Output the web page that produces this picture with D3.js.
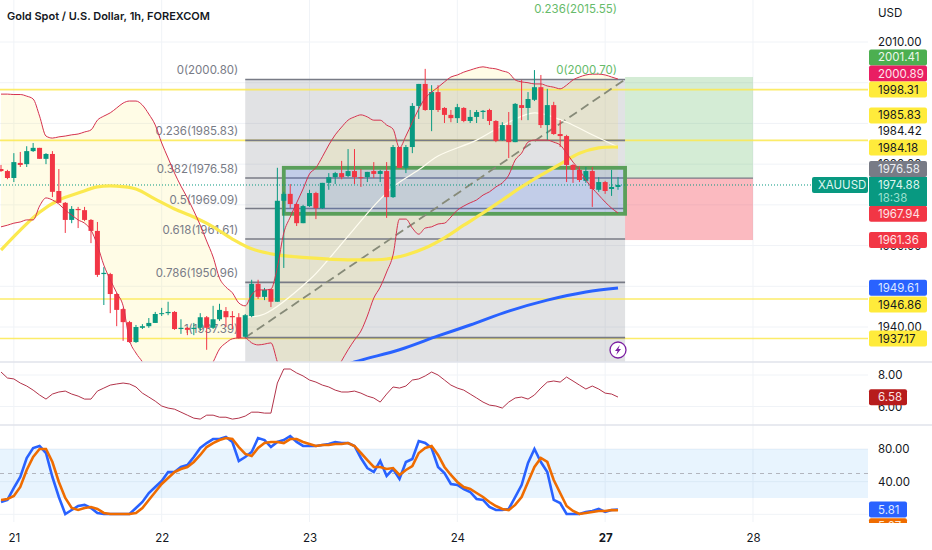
<!DOCTYPE html>
<html>
<head>
<meta charset="utf-8">
<script src="https://cdn.jsdelivr.net/npm/d3@7/dist/d3.min.js"></script>
<style>
  html, body { margin: 0; padding: 0; background: #fff; overflow: hidden; }
  svg { display: block; }
  text { font-family: Inter, "Liberation Sans", sans-serif; }
</style>
</head>
<body>
<svg id="chart" width="932" height="550"></svg>
<script>
// candles, one per hour, oldest first
const opens = [1978.8,1978.3,1976.6,1980.3,1980.0,1983.2,1984.0,1981.3,1982.5,1973.4,1970.5,1966.3,1969.0,1968.7,1966.3,1963.6,1953.0,1953.0,1948.1,1944.4,1941.2,1936.3,1939.8,1940.2,1941.0,1943.2,1943.4,1943.7,1939.5,1939.8,1939.5,1939.8,1942.4,1939.8,1941.9,1943.9,1942.7,1942.4,1937.6,1942.7,1950.6,1947.4,1949.3,1946.2,1971.0,1972.7,1970.2,1965.5,1969.7,1972.9,1969.2,1975.4,1976.8,1977.8,1977.1,1978.3,1976.8,1976.8,1978.3,1977.6,1978.3,1971.9,1984.2,1979.1,1984.2,1994.3,1999.7,1993.3,1997.7,1993.8,1992.1,1991.3,1993.8,1990.6,1991.6,1992.8,1993.3,1990.6,1985.9,1989.6,1985.4,1994.5,1993.8,1995.8,1998.9,1989.6,1994.5,1987.4,1986.9,1979.8,1978.6,1975.9,1978.3,1973.7,1975.6,1973.9,1974.4];
const highs = [1979.8,1978.6,1982.7,1983.0,1984.4,1985.2,1984.0,1982.7,1983.2,1978.8,1970.7,1969.7,1969.5,1969.5,1966.5,1965.8,1954.7,1953.3,1948.4,1944.7,1941.5,1940.5,1940.7,1942.2,1943.7,1944.7,1946.2,1943.9,1941.9,1940.0,1941.0,1943.4,1942.7,1945.2,1945.7,1944.9,1943.9,1943.4,1943.2,1951.6,1951.6,1949.6,1949.3,1979.1,1973.2,1975.1,1970.5,1970.0,1973.7,1973.2,1975.4,1977.8,1978.1,1980.8,1983.7,1983.7,1978.8,1978.1,1980.5,1978.6,1980.5,1984.7,1984.2,1984.7,1995.0,1999.7,2003.4,1999.4,1999.4,1994.0,1993.3,1994.8,1994.0,1993.3,1993.3,1993.3,1993.6,1990.8,1990.3,1992.8,1995.0,2000.7,1997.7,2003.1,2001.9,1998.5,1995.3,1990.8,1987.2,1980.0,1979.5,1979.3,1979.3,1976.8,1975.9,1978.6,1976.8];
const lows = [1978.1,1976.3,1975.6,1979.3,1979.3,1983.0,1981.3,1980.0,1971.9,1970.5,1963.1,1965.5,1964.3,1966.0,1960.6,1952.3,1945.4,1943.4,1940.2,1936.6,1936.1,1936.1,1939.5,1939.8,1941.0,1942.7,1942.9,1939.3,1938.3,1938.0,1938.0,1939.0,1934.4,1939.5,1941.5,1940.0,1939.5,1937.1,1937.3,1942.4,1946.9,1946.6,1944.9,1946.2,1954.5,1969.2,1964.8,1965.5,1969.5,1966.5,1969.0,1973.7,1975.1,1976.3,1976.8,1975.1,1974.4,1975.6,1976.6,1975.6,1966.8,1971.7,1979.1,1977.8,1982.7,1991.1,1993.1,1988.1,1992.8,1990.1,1990.3,1990.1,1990.3,1990.1,1990.1,1991.1,1989.6,1985.4,1985.7,1981.5,1985.4,1990.8,1990.8,1995.5,1988.9,1985.9,1987.2,1984.2,1975.6,1975.4,1975.6,1975.4,1969.5,1973.2,1972.7,1972.2,1973.7];
const closes = [1978.3,1976.6,1980.5,1979.8,1983.2,1984.0,1981.3,1982.5,1973.2,1970.5,1966.3,1969.0,1968.7,1966.3,1963.6,1952.8,1953.3,1948.1,1944.2,1941.2,1936.3,1940.0,1940.2,1941.0,1943.2,1943.4,1943.7,1939.5,1939.8,1939.3,1939.8,1942.4,1939.8,1941.9,1944.2,1942.4,1942.4,1937.3,1942.9,1950.6,1947.4,1949.1,1946.2,1971.0,1972.7,1970.2,1965.5,1969.7,1972.9,1969.2,1975.4,1976.8,1977.8,1976.8,1978.3,1976.8,1976.6,1978.1,1977.6,1978.3,1971.9,1984.2,1979.1,1984.2,1994.3,1999.7,1993.3,1997.7,1993.3,1992.1,1991.3,1994.0,1990.6,1991.6,1992.8,1993.1,1990.6,1985.7,1989.6,1985.4,1994.8,1993.8,1996.0,1998.9,1989.6,1994.5,1987.4,1986.9,1979.8,1978.6,1976.1,1978.3,1973.9,1975.6,1973.4,1974.4,1974.9];

// bollinger bands, one value per candle
const bbUpper = [1997.2,1997.2,1997.1,1997.1,1996.7,1996.0,1991.8,1986.9,1986.4,1986.7,1986.9,1987.2,1987.4,1987.9,1988.4,1990.8,1991.8,1992.6,1993.8,1995.0,1995.5,1995.5,1994.5,1992.3,1989.6,1985.2,1981.5,1977.8,1974.6,1971.7,1968.5,1965.0,1961.1,1957.2,1952.0,1949.8,1948.4,1945.9,1945.2,1947.9,1949.1,1949.1,1949.3,1954.7,1963.1,1967.0,1970.5,1973.9,1977.6,1979.1,1981.8,1984.7,1987.2,1989.1,1990.8,1991.6,1992.1,1991.6,1990.8,1990.8,1989.6,1988.6,1984.0,1986.9,1990.3,1993.6,1996.2,1997.7,1998.9,2000.2,2001.4,2001.9,2002.6,2003.1,2003.6,2003.9,2003.6,2003.4,2002.9,2002.4,2000.7,2000.2,2000.0,1999.7,1999.7,1999.2,1998.9,1998.5,1999.4,2000.7,2001.4,2001.9,2002.1,2002.1,2001.9,2001.4,2000.9];
const bbLower = [1964.6,1965.0,1965.5,1965.8,1966.3,1966.3,1969.7,1971.7,1971.2,1970.2,1968.7,1967.5,1966.3,1965.5,1963.8,1960.1,1955.2,1951.6,1948.4,1945.2,1936.8,1933.6,1931.4,1928.2,1925.7,1924.5,1924.0,1923.8,1923.8,1924.0,1924.5,1926.5,1929.0,1931.4,1934.6,1936.1,1937.1,1937.3,1937.3,1936.1,1935.6,1935.8,1936.1,1931.4,1927.0,1923.3,1920.8,1919.1,1920.5,1922.0,1924.0,1927.0,1929.0,1931.7,1934.4,1936.8,1939.0,1942.7,1947.1,1949.8,1953.5,1957.7,1966.5,1966.5,1964.3,1962.8,1964.3,1964.6,1965.3,1965.5,1967.0,1968.7,1969.7,1970.5,1971.2,1972.4,1973.2,1974.4,1975.4,1977.3,1981.0,1982.7,1985.4,1985.9,1985.9,1985.9,1985.4,1984.7,1982.7,1980.5,1978.6,1976.1,1974.1,1972.4,1970.7,1969.2,1968.0];

// moving averages, read at every few candles
const ma50Index = [0,3,6,9,12,15,18,21,24,27,30,33,36,39,43,48,54,60,63,66,69,72,75,78,81,84,87,90,93,96];
const ma50Values = [1958.9,1963.8,1968.2,1971.2,1972.9,1974.4,1974.6,1973.9,1971.4,1969.0,1967.0,1964.6,1961.6,1959.2,1957.7,1957.0,1956.5,1956.7,1957.7,1959.4,1961.9,1965.0,1968.0,1971.2,1974.4,1977.3,1980.0,1982.7,1984.0,1984.2];
const ma200Index = [48,55,62,68,73,79,85,91,96];
const ma200Values = [1927.5,1931.4,1934.4,1937.8,1940.5,1943.9,1946.6,1948.6,1949.6];
const maFastIndex = [38,41,48,51,54,58,61,65,68,74,79,83,88,92,96];
const maFastValues = [1942.4,1943.2,1951.6,1956.7,1962.3,1969.7,1974.4,1978.6,1982.0,1985.9,1990.3,1992.6,1990.3,1987.2,1984.2];

// lower panes
const volValues = [8.19,7.81,7.75,7.49,7.30,7.04,6.73,6.47,6.79,6.92,6.98,6.79,6.66,6.47,6.47,6.98,7.17,7.36,7.43,7.49,7.43,7.24,6.85,6.60,6.34,6.03,5.90,5.83,5.64,5.45,5.26,5.20,5.45,5.45,5.32,5.32,5.20,5.26,5.39,5.64,5.64,5.58,5.58,7.49,8.38,8.38,8.13,7.94,7.68,7.55,7.36,7.24,7.04,6.92,6.92,6.98,6.85,6.66,6.54,6.28,6.79,7.24,7.17,7.30,7.68,7.75,7.94,8.19,8.0,7.68,7.36,7.17,7.04,6.79,6.54,6.28,6.09,6.03,5.90,6.28,6.54,6.60,6.47,6.73,7.17,7.55,7.62,7.55,7.87,7.62,7.36,7.11,7.30,7.11,6.85,6.79,6.60];
const stochK = [15.1,17.6,32.3,45.7,69,81.2,83.7,75.1,45.7,21.2,0.4,5.3,10.2,11.5,7.8,1.7,0.4,0.4,0.4,0.4,0.4,7.8,15.1,26.1,33.5,40.8,51.8,51.8,58,60.4,70.2,81.2,87.3,92.2,92.2,94.7,88.6,65.3,70.2,76.3,93.5,91,82.4,88.6,91,95.9,88.6,83.7,83.7,83.7,84.9,86.1,88.6,87.3,87.3,83.7,69,56.7,51.8,65.3,47,55.5,43.3,64.1,67.8,89.8,87.3,81.2,58,50.6,37.2,35.9,31,27.4,18.8,17.6,9,5.3,5.3,6.6,21.2,35.9,62.9,80,64.1,51.8,17.6,13.9,0.4,0.4,0.4,2.9,4.1,6.6,2.9,5.3,5.81];
const stochD = [17.6,18.8,22.5,33.5,54.3,70.2,80,80,64.1,39.6,20,7.8,5.3,7.8,9,6.6,1.7,0.4,0.4,0.4,0.4,1.7,7.8,17.6,27.4,37.2,44.5,51.8,55.5,58,64.1,72.7,82.4,87.3,91,93.5,92.2,82.4,73.9,71.4,81.2,87.3,88.6,88.6,87.3,92.2,92.2,88.6,86.1,83.7,84.9,84.9,86.1,86.1,87.3,83.7,75.1,66.5,58,58,55.5,56.7,48.2,54.3,59.2,75.1,81.2,83.7,72.7,58,48.2,39.6,33.5,31,26.1,21.2,15.1,10.2,6.6,5.3,11.5,21.2,39.6,58,69,64.1,42.1,26.1,10.2,4.1,0.4,1.7,2.9,4.1,4.1,5.3,5.07];

// levels and annotations
const dayLabels = ['21','22','23','24','27','28'];
const dayIndex = [2,25,48,71,94,117];
const hLinePrices = [1998.31,1985.83,1946.86,1937.17];
const fibRatios = ['0','0.236','0.382','0.5','0.618','0.786','1'];
const fibPrices = [2000.80,1985.83,1976.58,1969.09,1961.61,1950.96,1937.39];
const gridPrices = [2010,2000,1990,1980,1970,1960,1950,1940];
const priceTicks = [2010,1980,1960,1940];
const volTicks = [8,6];
const stochTicks = [80,40];
const stochGrid = [80,40,0];
const lastPrice = 1974.88;
const entryPrice = 1976.58;
const targetPrice = 2001.41;
const stopPrice = 1961.36;
const zoneTop = 1979.1;
const zoneBottom = 1967.8;
const fibStart = 38;
const fibEnd = 97.1;
const boxEnd = 117;
const zoneStart = 44;

const tagLabels = ['1984.42','2001.41','2000.89','1998.31','1985.83','1984.18','1976.58','1967.94','1961.36','1949.61','1946.86','1937.17'];
const tagPrices = [1984.42,2001.41,2000.89,1998.31,1985.83,1984.18,1976.58,1967.94,1961.36,1949.61,1946.86,1937.17];

const tagStyle = {
  '1984.42': { bg: null, fg: '#131722', shift: -15.5 },
  '2001.41': { bg: '#4caf50', fg: '#ecf7ec', shift: -19.5 },
  '2000.89': { bg: '#e91e63', fg: '#fde4ec', shift: -5.5 },
  '1998.31': { bg: '#ffeb3b', fg: '#131722', shift: 0 },
  '1985.83': { bg: '#ffeb3b', fg: '#131722', shift: -25 },
  '1984.18': { bg: '#ffeb3b', fg: '#131722', shift: 0.5 },
  '1976.58': { bg: '#787b86', fg: '#eceef2', shift: -9 },
  '1967.94': { bg: '#f23645', fg: '#fde4e6', shift: 0.5 },
  '1961.36': { bg: '#f23645', fg: '#fde4e6', shift: 0 },
  '1949.61': { bg: '#2962ff', fg: '#dfe8ff', shift: 0 },
  '1946.86': { bg: '#ffeb3b', fg: '#131722', shift: 5.5 },
  '1937.17': { bg: '#ffeb3b', fg: '#131722', shift: 0 }
};

const green = '#089981';
const red = '#f23645';
const gridColor = '#f0f3f7';
const sepColor = '#e0e3eb';
const bandColor = '#d5324f';
const paneRight = 868;

const x = d3.scaleLinear().domain([0, 96]).range([1, 618]);
const y = d3.scaleLinear().domain([1940, 2010]).range([327, 42]);
const yVol = d3.scaleLinear().domain([6, 8]).range([406.5, 375]);
const yStoch = d3.scaleLinear().domain([20, 80]).range([498, 449]);

const svg = d3.select('#chart');
const defs = svg.append('defs');
defs.append('clipPath').attr('id', 'mainClip').append('rect').attr('width', paneRight).attr('height', 362);
defs.append('clipPath').attr('id', 'stochClip').append('rect').attr('y', 425).attr('width', 932).attr('height', 98);

// vertical grid
svg.append('g')
  .selectAll('line')
  .data(dayIndex)
  .join('line')
  .attr('x1', (d) => x(d))
  .attr('x2', (d) => x(d))
  .attr('y1', 0)
  .attr('y2', 522)
  .attr('stroke', gridColor);

// horizontal grid per pane
const hGrid = (values, scale) => svg.append('g')
  .selectAll('line')
  .data(values)
  .join('line')
  .attr('x1', 0)
  .attr('x2', paneRight)
  .attr('y1', (d) => scale(d))
  .attr('y2', (d) => scale(d))
  .attr('stroke', gridColor);
hGrid(gridPrices, y);
hGrid(volTicks, yVol);
hGrid(stochGrid, yStoch);

const main = svg.append('g').attr('clip-path', 'url(#mainClip)');

// fib background
main.append('rect')
  .attr('x', x(fibStart))
  .attr('y', y(fibPrices[0]))
  .attr('width', x(fibEnd) - x(fibStart))
  .attr('height', 362 - y(fibPrices[0]))
  .attr('fill', '#787b86')
  .attr('opacity', 0.22);

// bollinger fill
const bbArea = d3.area()
  .x((d, i) => x(i))
  .y0((d, i) => y(bbLower[i]))
  .y1((d) => y(d));
main.append('path')
  .attr('d', bbArea(bbUpper))
  .attr('fill', '#ffeb3b')
  .attr('opacity', 0.13);

// position box
main.append('rect')
  .attr('x', x(fibEnd))
  .attr('y', y(targetPrice))
  .attr('width', x(boxEnd) - x(fibEnd))
  .attr('height', y(entryPrice) - y(targetPrice))
  .attr('fill', '#4caf50')
  .attr('opacity', 0.24);
main.append('rect')
  .attr('x', x(fibEnd))
  .attr('y', y(entryPrice))
  .attr('width', x(boxEnd) - x(fibEnd))
  .attr('height', y(stopPrice) - y(entryPrice))
  .attr('fill', '#f23645')
  .attr('opacity', 0.34);

// horizontal yellow levels
main.append('g')
  .selectAll('line')
  .data(hLinePrices)
  .join('line')
  .attr('x1', 0)
  .attr('x2', paneRight)
  .attr('y1', (d) => y(d))
  .attr('y2', (d) => y(d))
  .attr('stroke', '#fbe94f')
  .attr('stroke-opacity', 0.85)
  .attr('stroke-width', 1.6);

// fib lines
main.append('g')
  .selectAll('line')
  .data(fibPrices)
  .join('line')
  .attr('x1', x(fibStart))
  .attr('x2', x(fibEnd))
  .attr('y1', (d) => y(d))
  .attr('y2', (d) => y(d))
  .attr('stroke', '#787b86')
  .attr('stroke-width', 1.6);
main.append('line')
  .attr('x1', x(fibEnd))
  .attr('x2', x(boxEnd))
  .attr('y1', y(entryPrice))
  .attr('y2', y(entryPrice))
  .attr('stroke', '#787b86')
  .attr('stroke-width', 1.2);

// fib labels
main.append('g')
  .selectAll('text')
  .data(fibPrices)
  .join('text')
  .attr('x', x(fibStart) - 7)
  .attr('y', (d) => y(d) - 5)
  .attr('text-anchor', 'end')
  .attr('font-size', 11.5)
  .attr('fill', '#787b86')
  .text((d, i) => `${fibRatios[i]}(${d.toFixed(2)})`);

// green fib labels on the right
svg.append('text')
  .attr('x', 617)
  .attr('y', 74)
  .attr('text-anchor', 'end')
  .attr('font-size', 11.5)
  .attr('fill', '#66bb6a')
  .text('0(2000.70)');
svg.append('text')
  .attr('x', 617)
  .attr('y', 13)
  .attr('text-anchor', 'end')
  .attr('font-size', 11.5)
  .attr('fill', '#66bb6a')
  .text('0.236(2015.55)');

// zone
main.append('rect')
  .attr('x', x(zoneStart))
  .attr('y', y(zoneTop))
  .attr('width', x(fibEnd) - x(zoneStart))
  .attr('height', y(zoneBottom) - y(zoneTop))
  .attr('fill', '#2962ff')
  .attr('fill-opacity', 0.17)
  .attr('stroke', '#5a9f5a')
  .attr('stroke-width', 3.8);

// diagonal
main.append('line')
  .attr('x1', x(fibStart))
  .attr('y1', y(fibPrices[6]))
  .attr('x2', x(fibEnd))
  .attr('y2', y(fibPrices[0]))
  .attr('stroke', '#868a78')
  .attr('stroke-width', 1.8)
  .attr('stroke-dasharray', '9 5');

// last price line
main.append('line')
  .attr('x1', 0)
  .attr('x2', paneRight)
  .attr('y1', y(lastPrice))
  .attr('y2', y(lastPrice))
  .attr('stroke', green)
  .attr('stroke-dasharray', '1 2');

// moving averages
const sparseLine = (idx, vals) => d3.line()
  .x((d, i) => x(idx[i]))
  .y((d) => y(d))
  .curve(d3.curveCatmullRom)(vals);

main.append('path')
  .attr('d', sparseLine(maFastIndex, maFastValues))
  .attr('fill', 'none')
  .attr('stroke', '#fffdf0')
  .attr('stroke-width', 1.2);
main.append('path')
  .attr('d', sparseLine(ma50Index, ma50Values))
  .attr('fill', 'none')
  .attr('stroke', '#fbe94f')
  .attr('stroke-width', 3.2);
main.append('path')
  .attr('d', sparseLine(ma200Index, ma200Values))
  .attr('fill', 'none')
  .attr('stroke', '#2962ff')
  .attr('stroke-width', 3);

// candles
const candles = d3.range(opens.length);
main.append('g')
  .selectAll('line')
  .data(candles)
  .join('line')
  .attr('x1', (i) => x(i))
  .attr('x2', (i) => x(i))
  .attr('y1', (i) => y(highs[i]))
  .attr('y2', (i) => y(lows[i]))
  .attr('stroke', (i) => (closes[i] >= opens[i] ? green : red));
main.append('g')
  .selectAll('rect')
  .data(candles)
  .join('rect')
  .attr('x', (i) => x(i) - 2.5)
  .attr('y', (i) => y(Math.max(opens[i], closes[i])))
  .attr('width', 5)
  .attr('height', (i) => Math.max(1, Math.abs(y(opens[i]) - y(closes[i]))))
  .attr('fill', (i) => (closes[i] >= opens[i] ? green : red));

// bollinger lines above the candles
const bbLine = d3.line().x((d, i) => x(i)).y((d) => y(d)).curve(d3.curveMonotoneX);
[bbUpper, bbLower].forEach((band) => {
  main.append('path')
    .attr('d', bbLine(band))
    .attr('fill', 'none')
    .attr('stroke', bandColor)
    .attr('stroke-width', 1);
});

// lightning badge
const badge = svg.append('g').attr('transform', 'translate(618,350)');
badge.append('circle').attr('r', 8).attr('fill', '#fff').attr('stroke', '#7b1fa2').attr('stroke-width', 1.3);
badge.append('path').attr('d', 'M1.8,-5 L-3,1 L-0.4,1 L-1.8,5 L3,-1 L0.4,-1 Z').attr('fill', '#7b1fa2');

// vol pane
svg.append('path')
  .attr('d', d3.line().x((d, i) => x(i)).y((d) => yVol(d))(volValues))
  .attr('fill', 'none')
  .attr('stroke', '#b2334a')
  .attr('stroke-width', 1);

// stoch pane
svg.append('rect')
  .attr('x', 0)
  .attr('y', yStoch(80))
  .attr('width', paneRight)
  .attr('height', yStoch(20) - yStoch(80))
  .attr('fill', '#2196f3')
  .attr('opacity', 0.1);
svg.append('line')
  .attr('x1', 0)
  .attr('x2', paneRight)
  .attr('y1', yStoch(50))
  .attr('y2', yStoch(50))
  .attr('stroke', '#b2b5be')
  .attr('stroke-dasharray', '4 4');
const stochLine = d3.line().x((d, i) => x(i)).y((d) => yStoch(d));
svg.append('path')
  .attr('d', stochLine(stochK))
  .attr('fill', 'none')
  .attr('stroke', '#2962ff')
  .attr('stroke-width', 2.6);
svg.append('path')
  .attr('d', stochLine(stochD))
  .attr('fill', 'none')
  .attr('stroke', '#ef6c00')
  .attr('stroke-width', 2.6);

// pane separators
svg.append('g')
  .selectAll('line')
  .data([362, 425])
  .join('line')
  .attr('x1', 0)
  .attr('x2', 932)
  .attr('y1', (d) => d)
  .attr('y2', (d) => d)
  .attr('stroke', sepColor)
  .attr('stroke-width', 1.4);

// axes
const cleanAxis = (g) => {
  g.select('.domain').remove();
  g.selectAll('.tick line').remove();
  g.selectAll('text')
    .attr('font-family', 'Inter')
    .attr('font-size', 11.5)
    .attr('fill', '#131722');
};
const rightAxis = (scale, ticks) => d3.axisRight(scale)
  .tickValues(ticks)
  .tickFormat((d) => d.toFixed(2))
  .tickSize(0)
  .tickPadding(10);
svg.append('g').attr('transform', `translate(${paneRight},0)`).call(rightAxis(y, priceTicks)).call(cleanAxis);
svg.append('g').attr('transform', `translate(${paneRight},0)`).call(rightAxis(yVol, volTicks)).call(cleanAxis);
svg.append('g').attr('transform', `translate(${paneRight},0)`).call(rightAxis(yStoch, stochTicks)).call(cleanAxis);

svg.append('g')
  .attr('transform', 'translate(0,531)')
  .call(d3.axisBottom(x).tickValues(dayIndex).tickFormat((d, i) => dayLabels[i]).tickSize(0).tickPadding(3))
  .call(cleanAxis)
  .selectAll('text')
  .attr('font-weight', (d, i) => (dayLabels[i] === '27' ? 700 : 400));

// header
svg.append('text')
  .attr('x', 7)
  .attr('y', 20)
  .attr('font-family', '"Open Sans"')
  .attr('font-size', 11)
  .attr('font-weight', 600)
  .attr('fill', '#131722')
  .text('Gold Spot / U.S. Dollar, 1h, FOREXCOM');
svg.append('text')
  .attr('x', 878)
  .attr('y', 17)
  .attr('font-size', 11.5)
  .attr('fill', '#131722')
  .text('USD');

// tags on the price axis
const tagWidth = 58;
const drawTag = (parent, label, centre, bg, fg, width) => {
  if (bg) {
    parent.append('rect')
      .attr('x', paneRight + 1)
      .attr('y', centre - 8)
      .attr('width', width)
      .attr('height', 16)
      .attr('rx', 2)
      .attr('fill', bg);
  }
  parent.append('text')
    .attr('x', paneRight + 10)
    .attr('y', centre + 4)
    .attr('font-size', 11.5)
    .attr('fill', fg)
    .text(label);
};
const tags = svg.append('g');
tagLabels.forEach((label, i) => {
  const s = tagStyle[label];
  drawTag(tags, label, y(tagPrices[i]) + s.shift, s.bg, s.fg, tagWidth);
});

// last price tag with countdown
tags.append('rect')
  .attr('x', paneRight + 1)
  .attr('y', y(lastPrice) - 8)
  .attr('width', tagWidth)
  .attr('height', 29)
  .attr('fill', green);
tags.append('text')
  .attr('x', paneRight + 10)
  .attr('y', y(lastPrice) + 4)
  .attr('font-size', 11.5)
  .attr('fill', '#dff5ef')
  .text(lastPrice.toFixed(2));
tags.append('text')
  .attr('x', paneRight + 10)
  .attr('y', y(lastPrice) + 17)
  .attr('font-size', 11.5)
  .attr('fill', '#9be0cf')
  .text('18:38');
tags.append('rect')
  .attr('x', 812)
  .attr('y', y(lastPrice) - 8)
  .attr('width', 56)
  .attr('height', 16)
  .attr('rx', 2)
  .attr('fill', green);
tags.append('text')
  .attr('x', 818)
  .attr('y', y(lastPrice) + 4)
  .attr('font-size', 11.5)
  .attr('fill', '#dff5ef')
  .text('XAUUSD');

// tags on lower panes
drawTag(tags, '6.58', yVol(6.58), '#b71c1c', '#fbe3e3', 38);
const stochTags = svg.append('g').attr('clip-path', 'url(#stochClip)');
drawTag(stochTags, stochK[96].toFixed(2), yStoch(stochK[96]), '#2962ff', '#dfe8ff', 38);
drawTag(stochTags, stochD[96].toFixed(2), yStoch(stochD[96]) + 16, '#ef6c00', '#fde8d6', 38);
</script>
</body>
</html>
